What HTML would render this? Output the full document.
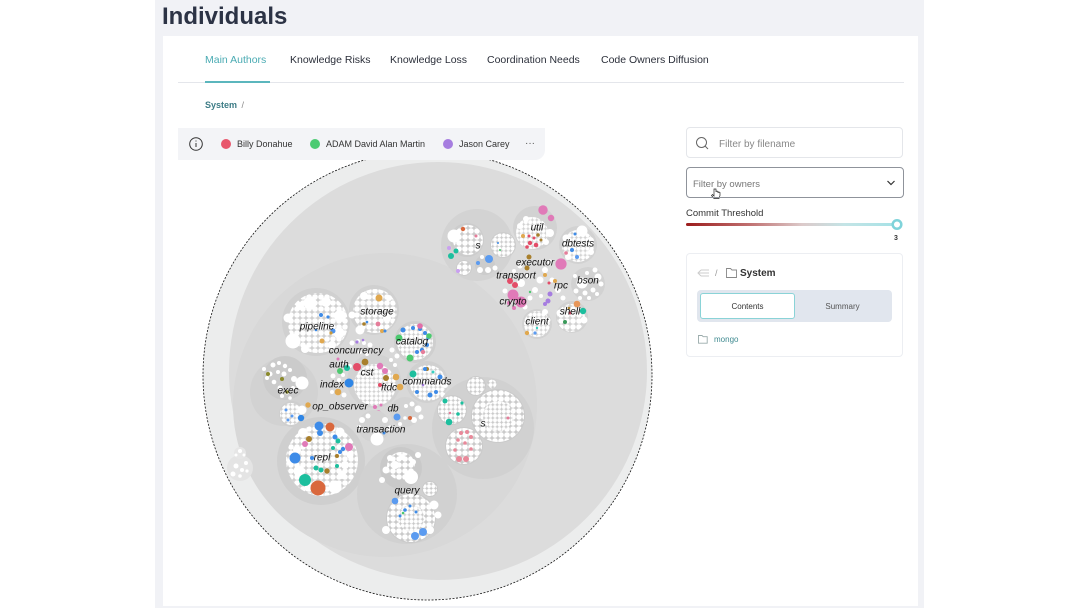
<!DOCTYPE html>
<html><head><meta charset="utf-8">
<style>
*{margin:0;padding:0;box-sizing:border-box}
body{width:1080px;height:608px;background:#fff;position:relative;overflow:hidden;font-family:"Liberation Sans",sans-serif;}
.bg{position:absolute;left:155px;top:0;width:769px;height:608px;background:#f1f2f6}
.card{position:absolute;left:163px;top:36px;width:755px;height:570px;background:#fff}
.t{position:absolute;white-space:nowrap}
</style></head><body>
<div class="bg"></div>
<div class="card"></div>
<div class="t" style="left:162px;top:4.5px;font-size:24px;line-height:24px;font-weight:bold;color:#2c3345">Individuals</div>

<div class="t" style="left:205px;top:55px;font-size:10.5px;line-height:10.5px;color:#4aabb3">Main Authors</div>
<div class="t" style="left:290px;top:55px;font-size:10.5px;line-height:10.5px;color:#2b2f3a">Knowledge Risks</div>
<div class="t" style="left:390px;top:55px;font-size:10.5px;line-height:10.5px;color:#2b2f3a">Knowledge Loss</div>
<div class="t" style="left:487px;top:55px;font-size:10.5px;line-height:10.5px;color:#2b2f3a">Coordination Needs</div>
<div class="t" style="left:601px;top:55px;font-size:10.5px;line-height:10.5px;color:#2b2f3a">Code Owners Diffusion</div>
<div style="position:absolute;left:178px;top:82px;width:726px;height:1px;background:#e4e6eb"></div>
<div style="position:absolute;left:205px;top:81px;width:65px;height:2px;background:#5bb6bd"></div>
<div class="t" style="left:205px;top:101px;font-size:9px;line-height:9px;font-weight:bold;color:#3d7c86">System <span style="font-weight:normal;color:#888;margin-left:2px">/</span></div>

<svg width="1080" height="608" style="position:absolute;left:0;top:0">
<defs>
<pattern id="pS" width="4.4" height="4.4" patternUnits="userSpaceOnUse"><circle cx="2.2" cy="2.2" r="2.05" fill="#fff"/></pattern>
<pattern id="pM" width="6" height="6" patternUnits="userSpaceOnUse"><circle cx="3" cy="3" r="2.8" fill="#fff"/></pattern>
</defs>
<circle cx="427.5" cy="375.5" r="224.5" fill="#eceded" stroke="#111" stroke-width="0.8" stroke-dasharray="2,1.5"/>
<circle cx="438" cy="371" r="209" fill="#dcdcdc"/>
<circle cx="385" cy="405" r="152" fill="#d8d8d8"/>

<!-- left small outside -->
<circle cx="240" cy="468" r="13" fill="#e4e4e4"/>
<circle cx="240" cy="453" r="6" fill="#e6e6e6"/>
<g fill="#fff"><circle cx="236" cy="466" r="2.5"/><circle cx="242" cy="470" r="2"/><circle cx="233" cy="474" r="2.5"/><circle cx="246" cy="463" r="2"/><circle cx="240" cy="476" r="1.8"/><circle cx="247" cy="471" r="1.6"/><circle cx="240" cy="451" r="2"/><circle cx="236" cy="455" r="1.5"/><circle cx="244" cy="455" r="1.5"/></g>

<!-- exec parent -->
<circle cx="284" cy="392" r="34" fill="#d2d2d2"/>
<circle cx="285" cy="378" r="22" fill="#cbcbcb"/>
<g fill="#fff"><circle cx="273" cy="365" r="2.5"/><circle cx="279" cy="363" r="2"/><circle cx="285" cy="366" r="2.2"/><circle cx="290" cy="370" r="2"/><circle cx="278" cy="372" r="2"/><circle cx="284" cy="374" r="2.5"/><circle cx="270" cy="374" r="2.5"/><circle cx="264" cy="369" r="2"/><circle cx="267" cy="378" r="2"/><circle cx="274" cy="382" r="2.3"/><circle cx="280" cy="388" r="2.5"/><circle cx="287" cy="392" r="2.5"/><circle cx="293" cy="388" r="2"/><circle cx="282" cy="396" r="2"/><circle cx="290" cy="398" r="1.8"/><circle cx="302" cy="383" r="6.5"/><circle cx="294" cy="379" r="3"/></g>
<g fill="#8b8a2c"><circle cx="268" cy="374" r="2"/><circle cx="282" cy="379" r="2"/><circle cx="287" cy="392" r="1.8"/></g>
<circle cx="292" cy="414" r="13" fill="#cecece"/>
<circle cx="291" cy="414" r="11" fill="url(#pS)"/>
<circle cx="302" cy="410" r="4.5" fill="#fff"/>
<circle cx="301" cy="418" r="3.2" fill="#2f86e6"/>
<circle cx="308" cy="405" r="2.7" fill="#e0a84f"/>
<g fill="#5b9bf0"><circle cx="286" cy="410" r="1.5"/><circle cx="292" cy="416" r="1.5"/><circle cx="288" cy="420" r="1.5"/></g>

<!-- pipeline -->
<circle cx="316" cy="322" r="34" fill="#d0d0d0"/>
<circle cx="318" cy="323" r="30" fill="url(#pM)"/>
<g fill="#fff"><circle cx="310" cy="303" r="6.5"/><circle cx="293" cy="341" r="7.5"/><circle cx="340" cy="316" r="6"/><circle cx="326" cy="302" r="5"/><circle cx="300" cy="306" r="4"/><circle cx="339" cy="333" r="5.5"/><circle cx="288" cy="318" r="4.5"/><circle cx="332" cy="345" r="4"/><circle cx="305" cy="349" r="4"/></g>
<circle cx="333" cy="331" r="2.5" fill="#4f94ee"/><circle cx="322" cy="341" r="2.5" fill="#e0a84f"/><circle cx="321" cy="315" r="2" fill="#3e8be6"/><circle cx="328" cy="317" r="1.6" fill="#3e8be6"/><circle cx="331" cy="333" r="1.6" fill="#c99a3c"/><circle cx="316" cy="330" r="1.3" fill="#3e8be6"/>

<!-- storage -->
<circle cx="374" cy="310" r="25" fill="#d0d0d0"/>
<circle cx="375" cy="311" r="22" fill="url(#pM)"/>
<g fill="#fff"><circle cx="364" cy="296" r="4"/><circle cx="387" cy="318" r="4"/><circle cx="360" cy="330" r="4.5"/><circle cx="352" cy="315" r="3.5"/><circle cx="389" cy="298" r="3"/></g>
<circle cx="379" cy="298" r="3.5" fill="#e0a84f"/><circle cx="378" cy="324" r="2.4" fill="#e57d9a"/><circle cx="382" cy="331" r="2" fill="#e0a84f"/><circle cx="364" cy="324" r="1.8" fill="#a87f2c"/><circle cx="367" cy="322" r="1.3" fill="#3e8be6"/><circle cx="385" cy="331" r="1.5" fill="#3e8be6"/>

<!-- catalog -->
<circle cx="415" cy="342" r="21" fill="#cfcfcf"/>
<circle cx="415" cy="342" r="18" fill="url(#pS)"/>
<g fill="#3e8be6"><circle cx="403" cy="330" r="2.5"/><circle cx="413" cy="328" r="2"/><circle cx="420" cy="329" r="2"/><circle cx="425" cy="333" r="2"/><circle cx="428" cy="338" r="1.8"/><circle cx="422" cy="350" r="2.2"/><circle cx="417" cy="352" r="2"/><circle cx="427" cy="345" r="2"/></g>
<circle cx="399" cy="338" r="3.5" fill="#4cc96f"/><circle cx="410" cy="358" r="3.5" fill="#4cc96f"/><circle cx="429" cy="336" r="2.8" fill="#4cc96f"/><circle cx="420" cy="326" r="2.8" fill="#e26fa8"/><circle cx="423" cy="352" r="2.2" fill="#e57d9a"/>

<!-- central cst -->
<circle cx="374" cy="381" r="27" fill="#d2d2d2"/>
<circle cx="375" cy="385" r="21" fill="url(#pS)"/>
<g fill="#fff"><circle cx="344" cy="362" r="2"/><circle cx="350" cy="366" r="2"/><circle cx="343" cy="375" r="2"/><circle cx="333" cy="376" r="2.5"/><circle cx="339" cy="380" r="2"/><circle cx="332" cy="392" r="2"/><circle cx="344" cy="395" r="2.5"/><circle cx="352" cy="343" r="2.5"/><circle cx="358" cy="341" r="2"/><circle cx="364" cy="343" r="2"/><circle cx="370" cy="345" r="2.5"/><circle cx="360" cy="352" r="2"/><circle cx="367" cy="354" r="2"/><circle cx="392" cy="350" r="2.5"/><circle cx="397" cy="356" r="2.5"/><circle cx="391" cy="360" r="2"/><circle cx="395" cy="365" r="2"/></g>
<circle cx="347" cy="368" r="3" fill="#1dbf9e"/><circle cx="340" cy="371" r="3" fill="#4cc96f"/><circle cx="338" cy="359" r="1.5" fill="#e07ab8"/>
<circle cx="357" cy="367" r="4" fill="#e34d68"/><circle cx="365" cy="362" r="3.4" fill="#a87f2c"/><circle cx="380" cy="366" r="3.2" fill="#e07ab8"/><circle cx="385" cy="371" r="3" fill="#e07ab8"/><circle cx="386" cy="378" r="3" fill="#a87f2c"/><circle cx="396" cy="377" r="3.3" fill="#e0a84f"/><circle cx="400" cy="387" r="3.3" fill="#e0a84f"/><circle cx="380" cy="385" r="2" fill="#e34d68"/>
<circle cx="349" cy="383" r="4.5" fill="#2f86e6"/><circle cx="338" cy="392" r="3.3" fill="#e0a84f"/>
<circle cx="357" cy="342" r="1.6" fill="#a67de0"/><circle cx="363" cy="340" r="1.3" fill="#a67de0"/>

<!-- commands -->
<circle cx="427" cy="382" r="21" fill="#d0d0d0"/>
<circle cx="428" cy="383" r="18" fill="url(#pS)"/>
<circle cx="413" cy="374" r="3.5" fill="#1dbf9e"/><circle cx="427" cy="369" r="2" fill="#a87f2c"/>
<g fill="#3e8be6"><circle cx="417" cy="392" r="2"/><circle cx="430" cy="395" r="2.5"/><circle cx="436" cy="392" r="2"/><circle cx="440" cy="377" r="2.5"/><circle cx="425" cy="369" r="2"/></g>
<circle cx="423" cy="385" r="1.3" fill="#a67de0"/><circle cx="433" cy="372" r="1.5" fill="#3ad0c0"/>
<circle cx="445" cy="385" r="3" fill="#fff"/><circle cx="443" cy="395" r="2.5" fill="#fff"/>

<!-- db -->
<circle cx="405" cy="412" r="15" fill="#d3d3d3"/>
<g fill="#fff"><circle cx="418" cy="409" r="3.5"/><circle cx="414" cy="420" r="3"/><circle cx="421" cy="417" r="2.5"/><circle cx="406" cy="406" r="2"/><circle cx="412" cy="404" r="2.5"/><circle cx="400" cy="424" r="2"/><circle cx="405" cy="418" r="1.8"/></g>
<circle cx="397" cy="417" r="3.5" fill="#5b9bf0"/><circle cx="410" cy="418" r="2" fill="#d9683d"/>
<circle cx="378" cy="413" r="3" fill="#e07ab8"/><circle cx="375" cy="407" r="2" fill="#e07ab8"/><circle cx="381" cy="405" r="1.5" fill="#e07ab8"/>

<!-- transaction -->
<circle cx="374" cy="426" r="16" fill="#d3d3d3"/>
<g fill="#fff"><circle cx="377" cy="439" r="6.5"/><circle cx="362" cy="420" r="3"/><circle cx="368" cy="416" r="2.5"/><circle cx="385" cy="420" r="3"/><circle cx="390" cy="428" r="2.5"/><circle cx="365" cy="430" r="2"/><circle cx="359" cy="427" r="2"/></g>
<circle cx="384" cy="433" r="1.5" fill="#3e8be6"/>

<!-- repl -->
<circle cx="321" cy="461" r="44" fill="#cfcfcf"/>
<circle cx="322" cy="460" r="36" fill="url(#pM)"/>
<g fill="#fff"><circle cx="303" cy="433" r="5"/><circle cx="299" cy="471" r="5.5"/><circle cx="335" cy="487" r="6.5"/><circle cx="342" cy="475" r="4"/><circle cx="345" cy="465" r="4"/><circle cx="350" cy="455" r="3.5"/><circle cx="340" cy="432" r="4.5"/><circle cx="297" cy="450" r="4"/><circle cx="308" cy="488" r="3.5"/><circle cx="290" cy="462" r="3.5"/></g>
<circle cx="319" cy="426" r="4.5" fill="#3d8be8"/><circle cx="330" cy="427" r="4.5" fill="#d9683d"/><circle cx="295" cy="458" r="5.5" fill="#3d8be8"/><circle cx="305" cy="480" r="6" fill="#1dbf9e"/><circle cx="318" cy="488" r="7.5" fill="#d9683d"/>
<circle cx="349" cy="447" r="4" fill="#e07ab8"/><circle cx="305" cy="444" r="3" fill="#e07ab8"/><circle cx="309" cy="439" r="3" fill="#a87f2c"/><circle cx="320" cy="433" r="3" fill="#3d8be8"/><circle cx="335" cy="437" r="2.5" fill="#3d8be8"/><circle cx="338" cy="441" r="2.5" fill="#1dbf9e"/><circle cx="343" cy="449" r="2.2" fill="#3d8be8"/><circle cx="327" cy="471" r="2.7" fill="#a87f2c"/><circle cx="321" cy="470" r="2.5" fill="#1dbf9e"/><circle cx="316" cy="468" r="2.5" fill="#1dbf9e"/><circle cx="337" cy="456" r="2" fill="#a87f2c"/><circle cx="340" cy="452" r="2" fill="#3d8be8"/><circle cx="333" cy="448" r="2" fill="#1dbf9e"/><circle cx="312" cy="458" r="2" fill="#3d8be8"/><circle cx="337" cy="466" r="2" fill="#1dbf9e"/>

<!-- query -->
<circle cx="407" cy="494" r="50" fill="#d1d1d1"/>
<circle cx="401" cy="468" r="21" fill="#c9c9c9"/>
<circle cx="401" cy="466" r="14" fill="url(#pM)"/>
<g fill="#fff"><circle cx="411" cy="477" r="7"/><circle cx="395" cy="465" r="4"/><circle cx="386" cy="470" r="3.5"/><circle cx="390" cy="458" r="3"/><circle cx="402" cy="457" r="3"/><circle cx="413" cy="462" r="3"/><circle cx="418" cy="455" r="3"/><circle cx="382" cy="480" r="3"/></g>
<circle cx="411" cy="518" r="25" fill="#cacaca"/>
<circle cx="411" cy="518" r="24" fill="url(#pM)"/>
<circle cx="411" cy="518" r="13" fill="#cacaca"/>
<circle cx="411" cy="518" r="13" fill="url(#pS)"/>
<g fill="#fff"><circle cx="434" cy="505" r="4.5"/><circle cx="438" cy="515" r="3.5"/><circle cx="386" cy="530" r="4"/><circle cx="430" cy="530" r="4"/></g>
<circle cx="395" cy="501" r="3.3" fill="#5b9bf0"/><circle cx="415" cy="536" r="4" fill="#5b9bf0"/><circle cx="423" cy="532" r="4" fill="#5b9bf0"/><circle cx="405" cy="510" r="1.8" fill="#3e8be6"/><circle cx="400" cy="516" r="1.5" fill="#3e8be6"/><circle cx="410" cy="506" r="1.5" fill="#3e8be6"/><circle cx="403" cy="513" r="1.3" fill="#4cc96f"/><circle cx="416" cy="512" r="1.5" fill="#3e8be6"/>
<circle cx="430" cy="489" r="8" fill="#c9c9c9"/><circle cx="430" cy="489" r="7" fill="url(#pS)"/>

<!-- s bottom right -->
<circle cx="483" cy="428" r="51" fill="#d1d1d1"/>
<circle cx="498" cy="416" r="27" fill="#cacaca"/>
<circle cx="498" cy="416" r="26" fill="url(#pM)"/>
<circle cx="498" cy="416" r="15" fill="#cacaca"/>
<circle cx="498" cy="416" r="15" fill="url(#pS)"/>
<circle cx="508" cy="418" r="1.5" fill="#e57d9a"/>
<circle cx="452" cy="410" r="15" fill="#cacaca"/>
<circle cx="452" cy="410" r="14" fill="url(#pS)"/>
<circle cx="445" cy="401" r="2.5" fill="#1dbf9e"/><circle cx="449" cy="422" r="3.3" fill="#1dbf9e"/><circle cx="458" cy="414" r="1.8" fill="#1dbf9e"/><circle cx="462" cy="403" r="1.6" fill="#1dbf9e"/><circle cx="450" cy="413" r="1.2" fill="#e57d9a"/>
<circle cx="464" cy="446" r="19" fill="#cacaca"/>
<circle cx="464" cy="446" r="18" fill="url(#pM)"/>
<g fill="#e8899a"><circle cx="459" cy="459" r="3"/><circle cx="466" cy="459" r="3"/><circle cx="461" cy="433" r="2"/><circle cx="467" cy="432" r="2"/><circle cx="471" cy="437" r="2"/><circle cx="465" cy="443" r="1.8"/><circle cx="458" cy="440" r="1.8"/><circle cx="471" cy="449" r="1.8"/><circle cx="455" cy="450" r="1.8"/></g>
<circle cx="476" cy="386" r="10" fill="#cacaca"/><circle cx="476" cy="386" r="9" fill="url(#pS)"/>
<circle cx="492" cy="384" r="5" fill="#cacaca"/><circle cx="492" cy="384" r="4.5" fill="url(#pS)"/>

<!-- top-right s -->
<circle cx="477" cy="245" r="36" fill="#d3d3d3"/>
<circle cx="467" cy="240" r="17" fill="#cccccc"/>
<circle cx="468" cy="240" r="15" fill="url(#pM)"/>
<circle cx="454" cy="236" r="6.5" fill="#fff"/>
<circle cx="463" cy="229" r="2.2" fill="#d9683d"/><circle cx="476" cy="236" r="1.5" fill="#e57d9a"/>
<circle cx="451" cy="256" r="3" fill="#1dbf9e"/><circle cx="456" cy="251" r="2.5" fill="#1dbf9e"/><circle cx="449" cy="248" r="2" fill="#c9a0f0"/>
<circle cx="503" cy="245" r="13" fill="#cccccc"/><circle cx="503" cy="245" r="12" fill="url(#pS)"/>
<circle cx="498" cy="243" r="1" fill="#3e8be6"/><circle cx="500" cy="250" r="1" fill="#4cc96f"/>
<circle cx="464" cy="268" r="8" fill="#cccccc"/><circle cx="464" cy="268" r="7" fill="url(#pM)"/>
<circle cx="458" cy="271" r="2" fill="#c9a0f0"/>
<circle cx="485" cy="265" r="10" fill="#cccccc"/>
<g fill="#fff"><circle cx="480" cy="270" r="3"/><circle cx="488" cy="270" r="3"/><circle cx="495" cy="268" r="2.5"/><circle cx="482" cy="257" r="2"/></g>
<circle cx="489" cy="259" r="4" fill="#5b9bf0"/><circle cx="478" cy="263" r="2" fill="#5b9bf0"/>

<!-- util -->
<circle cx="535" cy="228" r="22" fill="#d2d2d2"/>
<circle cx="532" cy="233" r="16" fill="url(#pS)"/>
<g fill="#fff"><circle cx="550" cy="233" r="4"/><circle cx="520" cy="226" r="3"/><circle cx="526" cy="219" r="3"/><circle cx="546" cy="242" r="3"/></g>
<circle cx="543" cy="210" r="4.7" fill="#e07ab8"/><circle cx="551" cy="218" r="3.2" fill="#e07ab8"/>
<g fill="#e34d68"><circle cx="530" cy="243" r="2.2"/><circle cx="536" cy="245" r="2.3"/><circle cx="527" cy="247" r="1.8"/><circle cx="534" cy="238" r="1.5"/><circle cx="529" cy="236" r="1.5"/></g>
<circle cx="523" cy="236" r="2" fill="#e0a84f"/><circle cx="538" cy="235" r="1.8" fill="#a87f2c"/><circle cx="541" cy="240" r="1.5" fill="#a87f2c"/>

<!-- dbtests -->
<circle cx="578" cy="245" r="19" fill="#d2d2d2"/>
<circle cx="578" cy="246" r="16" fill="url(#pS)"/>
<g fill="#fff"><circle cx="582" cy="231" r="5.5"/><circle cx="590" cy="241" r="4"/><circle cx="566" cy="238" r="3.5"/><circle cx="591" cy="252" r="3"/><circle cx="568" cy="257" r="3"/></g>
<circle cx="572" cy="250" r="2" fill="#3e8be6"/><circle cx="577" cy="257" r="2" fill="#5b9bf0"/><circle cx="566" cy="253" r="1.8" fill="#e57d9a"/><circle cx="575" cy="234" r="1.5" fill="#3e8be6"/>

<!-- bson -->
<circle cx="588" cy="284" r="17" fill="#d2d2d2"/>
<g fill="#fff"><circle cx="582" cy="283" r="5.5"/><circle cx="598" cy="277" r="3.5"/><circle cx="601" cy="284" r="2.5"/><circle cx="593" cy="290" r="2.5"/><circle cx="585" cy="293" r="2.5"/><circle cx="576" cy="291" r="2.5"/><circle cx="595" cy="270" r="2.5"/><circle cx="575" cy="276" r="2"/><circle cx="587" cy="273" r="2"/><circle cx="580" cy="298" r="2"/><circle cx="589" cy="298" r="2"/><circle cx="597" cy="294" r="2"/></g>

<!-- shell -->
<circle cx="572" cy="317" r="16" fill="#d2d2d2"/>
<circle cx="571" cy="318" r="14" fill="url(#pM)"/>
<circle cx="560" cy="313" r="3.5" fill="#fff"/><circle cx="584" cy="320" r="3.5" fill="#fff"/>
<circle cx="577" cy="304" r="3.3" fill="#e8975a"/><circle cx="583" cy="311" r="3.2" fill="#1dbf9e"/><circle cx="565" cy="322" r="2" fill="#3a9a5a"/><circle cx="570" cy="313" r="1.5" fill="#e34d68"/><circle cx="569" cy="308" r="1.3" fill="#a87f2c"/>

<!-- client -->
<circle cx="537" cy="324" r="15" fill="#d2d2d2"/>
<circle cx="537" cy="324" r="13" fill="url(#pS)"/>
<circle cx="527" cy="333" r="2.2" fill="#e0a84f"/><circle cx="535" cy="333" r="1.6" fill="#5b9bf0"/><circle cx="537" cy="328" r="1.2" fill="#3ad0c0"/>
<circle cx="545" cy="312" r="3" fill="#fff"/><circle cx="548" cy="320" r="2.5" fill="#fff"/>

<!-- transport / executor / crypto / rpc -->
<g fill="#fff"><circle cx="521" cy="283" r="4"/><circle cx="527" cy="276" r="3"/><circle cx="540" cy="280" r="3.5"/><circle cx="535" cy="290" r="3"/><circle cx="530" cy="298" r="2.5"/><circle cx="545" cy="270" r="3"/><circle cx="552" cy="280" r="2.5"/><circle cx="558" cy="290" r="3"/><circle cx="563" cy="298" r="2.5"/><circle cx="505" cy="291" r="2.5"/><circle cx="525" cy="307" r="2.5"/><circle cx="541" cy="296" r="2"/><circle cx="550" cy="262" r="2.5"/><circle cx="520" cy="266" r="2.5"/><circle cx="514" cy="271" r="2"/></g>
<circle cx="561" cy="264" r="5.6" fill="#e07ab8"/>
<circle cx="529" cy="257" r="2.5" fill="#a87f2c"/><circle cx="527" cy="268" r="2.5" fill="#a87f2c"/>
<circle cx="510" cy="281" r="3" fill="#e34d68"/><circle cx="515" cy="285" r="3" fill="#e34d68"/>
<circle cx="513" cy="295" r="5.5" fill="#e07ab8"/><circle cx="521" cy="302" r="5.5" fill="#e07ab8"/>
<circle cx="509" cy="303" r="2" fill="#e07ab8"/><circle cx="514" cy="308" r="2" fill="#e07ab8"/>
<circle cx="548" cy="301" r="2.5" fill="#a67de0"/><circle cx="550" cy="294" r="2.5" fill="#a67de0"/><circle cx="545" cy="304" r="2" fill="#a67de0"/>
<circle cx="555" cy="281" r="2" fill="#e0a84f"/><circle cx="545" cy="275" r="2" fill="#e0a84f"/><circle cx="549" cy="283" r="1.5" fill="#e34d68"/><circle cx="530" cy="292" r="1.2" fill="#4cc96f"/>

<!-- labels -->
<g font-family="Liberation Sans, sans-serif" font-style="italic" font-size="10" fill="#111" text-anchor="middle">
<text x="537" y="230.3">util</text>
<text x="478" y="248.3">s</text>
<text x="578" y="246.3">dbtests</text>
<text x="535" y="265.3">executor</text>
<text x="516" y="278.3">transport</text>
<text x="561" y="288.3">rpc</text>
<text x="588" y="283.3">bson</text>
<text x="513" y="304.3">crypto</text>
<text x="570" y="314.3">shell</text>
<text x="537" y="324.3">client</text>
<text x="377" y="314.3">storage</text>
<text x="317" y="329.3">pipeline</text>
<text x="412" y="344.3">catalog</text>
<text x="356" y="353.3">concurrency</text>
<text x="339" y="367.3">auth</text>
<text x="367" y="375.3">cst</text>
<text x="332" y="387.3">index</text>
<text x="389" y="390.3">ftdc</text>
<text x="427" y="384.3">commands</text>
<text x="288" y="393.3">exec</text>
<text x="340" y="409.3">op_observer</text>
<text x="393" y="411.3">db</text>
<text x="381" y="432.3">transaction</text>
<text x="483" y="426.3">s</text>
<text x="322" y="460.3">repl</text>
<text x="407" y="493.3">query</text>
</g>
</svg>

<!-- legend bar -->
<div style="position:absolute;left:178px;top:128px;width:367px;height:32px;background:#f3f4f7;border-radius:0 0 10px 0"></div>
<svg width="1080" height="608" style="position:absolute;left:0;top:0;pointer-events:none">
<circle cx="196" cy="144" r="6.3" fill="none" stroke="#333" stroke-width="1"/>
<rect x="195.5" y="143" width="1" height="4" fill="#333"/><rect x="195.5" y="140.5" width="1" height="1" fill="#333"/>
<circle cx="226" cy="144" r="5" fill="#e8566c"/>
<circle cx="315" cy="144" r="5" fill="#4ccb73"/>
<circle cx="448" cy="144" r="5" fill="#a67de0"/>
<!-- search icon -->
<circle cx="701.5" cy="142.5" r="5" fill="none" stroke="#666" stroke-width="1"/>
<line x1="705" y1="146" x2="708" y2="149" stroke="#666" stroke-width="1"/>
<!-- chevron -->
<polyline points="887.5,181 891,184.5 894.5,181" fill="none" stroke="#333" stroke-width="1.2"/>
<!-- slider -->
<defs><linearGradient id="sg" x1="0" x2="1" y1="0" y2="0"><stop offset="0" stop-color="#9b1c1c"/><stop offset="0.3" stop-color="#c07070"/><stop offset="0.55" stop-color="#dccaca"/><stop offset="0.75" stop-color="#c4e4e6"/><stop offset="1" stop-color="#a5e2e6"/></linearGradient></defs>
<rect x="686" y="223" width="211" height="3" rx="1.5" fill="url(#sg)"/>
<circle cx="897" cy="224.5" r="4.3" fill="#fff" stroke="#7fd3da" stroke-width="2.5"/>
<!-- back arrow -->
<g stroke="#ccc" stroke-width="1" fill="none"><line x1="698" y1="273" x2="709" y2="273"/><line x1="701" y1="270" x2="709" y2="270"/><line x1="701" y1="276" x2="709" y2="276"/><polyline points="701,270 698,273 701,276"/></g>
<!-- folder icons -->
<path d="M726.5 268.5 h4 l1.5 1.5 h4.5 v7.5 h-10 z" fill="none" stroke="#888" stroke-width="0.9"/>
<path d="M698.5 335.5 h3.5 l1.2 1.2 h4 v6.5 h-8.7 z" fill="none" stroke="#9aa" stroke-width="0.9"/>
<!-- cursor -->
<path d="M714 189 v7 l-1.5-1.5 l-1 1 l2.5 3 h5 l1-3 v-3 l-1-0.5 l-1 0.5 v-1 l-1-0.5 l-1 0.5 v-2.5 z" fill="#fff" stroke="#222" stroke-width="0.7"/>
</svg>
<div class="t" style="left:237px;top:139.6px;font-size:9px;line-height:9px;color:#333">Billy Donahue</div>
<div class="t" style="left:326px;top:139.6px;font-size:9px;line-height:9px;color:#333">ADAM David Alan Martin</div>
<div class="t" style="left:459px;top:139.6px;font-size:9px;line-height:9px;color:#333">Jason Carey</div>
<div class="t" style="left:525px;top:139px;font-size:10px;line-height:10px;color:#555">···</div>

<!-- right panel -->
<div style="position:absolute;left:686px;top:127px;width:217px;height:31px;border:1px solid #e4e6ea;border-radius:4px"></div>
<div class="t" style="left:719px;top:139.5px;font-size:10px;line-height:10px;color:#888">Filter by filename</div>
<div style="position:absolute;left:686px;top:167px;width:218px;height:31px;border:1px solid #8f939b;border-radius:4px"></div>
<div class="t" style="left:693px;top:179.5px;font-size:9.5px;line-height:9.5px;color:#777">Filter by owners</div>
<div class="t" style="left:686px;top:209px;font-size:9.5px;line-height:9.5px;color:#333">Commit Threshold</div>
<div class="t" style="left:894px;top:234.5px;font-size:7px;line-height:7px;font-weight:bold;color:#333">3</div>
<div style="position:absolute;left:686px;top:253px;width:217px;height:104px;border:1px solid #eceef2;border-radius:4px"></div>
<div class="t" style="left:715px;top:268.5px;font-size:9px;line-height:9px;color:#999">/</div>
<div class="t" style="left:740px;top:268.5px;font-size:10px;line-height:10px;font-weight:bold;color:#333">System</div>
<div style="position:absolute;left:697px;top:290px;width:195px;height:32px;background:#e1e6ee;border-radius:4px"></div>
<div style="position:absolute;left:700px;top:293px;width:95px;height:26px;background:#fff;border:1px solid #8ad3d7;border-radius:3px"></div>
<div class="t" style="left:700px;width:95px;text-align:center;top:302.5px;font-size:8px;line-height:8px;color:#333">Contents</div>
<div class="t" style="left:795px;width:95px;text-align:center;top:302.5px;font-size:8px;line-height:8px;color:#555">Summary</div>
<div class="t" style="left:714px;top:335.5px;font-size:8px;line-height:8px;color:#3f8a90">mongo</div>
</body></html>
